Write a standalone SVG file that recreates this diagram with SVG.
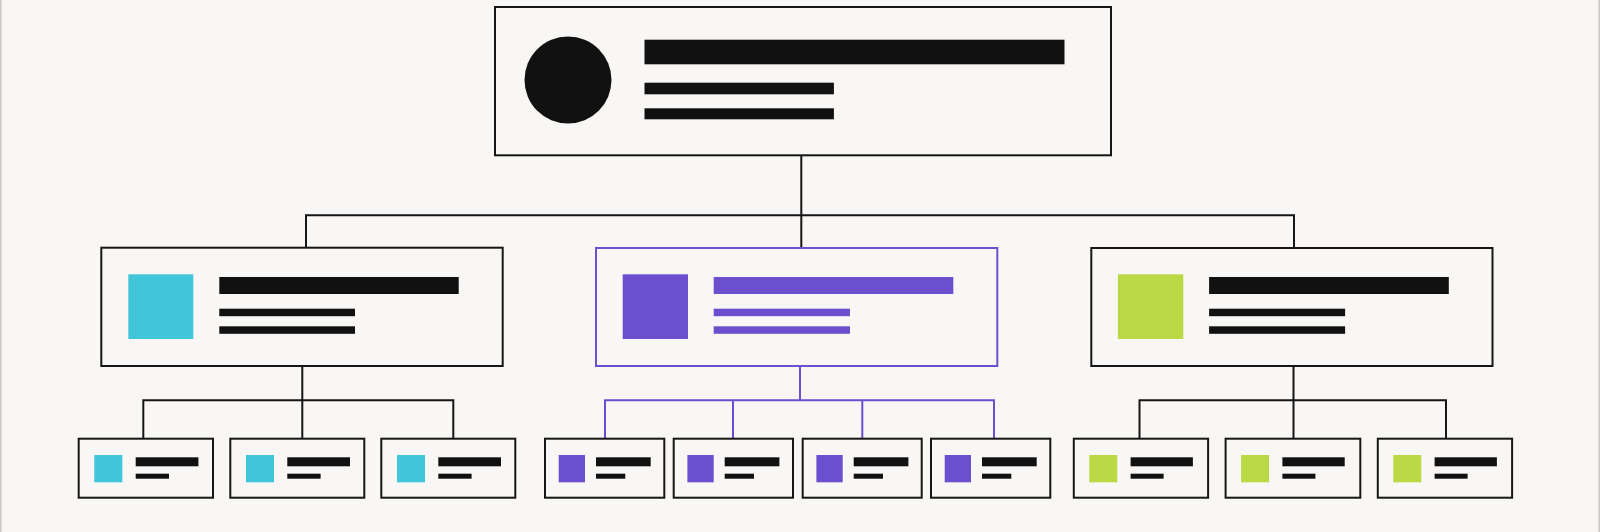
<svg xmlns="http://www.w3.org/2000/svg" width="1600" height="532" viewBox="0 0 1600 532">
<style>
.bg{fill:#f8f7f5}
.box{fill:#f8f7f5;stroke:#161616;stroke-width:2}
.pbox{fill:#f8f7f5;stroke:#6b4fcf;stroke-width:2}
.k{fill:#111111}
.p{fill:#6b4fcf}
.c{fill:#41c5d8}
.g{fill:#bad944}
.ln{fill:none;stroke:#161616;stroke-width:2}
.pln{fill:none;stroke:#6b4fcf;stroke-width:2}
</style>
<rect class="bg" x="0" y="0" width="1600" height="532"/>
<rect x="0" y="0" width="1.5" height="532" fill="#c8c8c8"/>
<rect x="1598.5" y="0" width="1.5" height="532" fill="#c8c8c8"/>
<g id="connectors">
<path class="ln" d="M801.3 155.3V247.3M306 247.3V215.3H1294V247.3"/>
<path class="ln" d="M302.3 366V400.3M143.3 438.7V400.3H453.3V438.7M302.3 400.3V438.7"/>
<path class="pln" d="M800 366V400.3M605 438.7V400.3H994V438.7M733 400.3V438.7M862.3 400.3V438.7"/>
<path class="ln" d="M1293.5 366V400.3M1139.5 438.7V400.3H1446V438.7M1293.5 400.3V438.7"/>
</g>
<g id="root">
<rect class="box" x="495" y="7" width="616" height="148.3"/>
<circle class="k" cx="568" cy="80" r="43.5"/>
<rect class="k" x="644.5" y="39.7" width="420" height="24.6"/>
<rect class="k" x="644.5" y="82.7" width="189.4" height="11.6"/>
<rect class="k" x="644.5" y="108.3" width="189.4" height="11"/>
</g>
<g id="mid-left">
<rect class="box" x="101.3" y="247.7" width="401.4" height="118.3"/>
<rect class="c" x="128.3" y="274.3" width="65" height="64.7"/>
<rect class="k" x="219.3" y="277" width="239.4" height="17"/>
<rect class="k" x="219.3" y="308.7" width="135.7" height="7.5"/>
<rect class="k" x="219.3" y="326.3" width="135.7" height="7.5"/>
</g>
<g id="mid-center">
<rect class="pbox" x="596" y="248" width="401.3" height="118"/>
<rect class="p" x="622.7" y="274.3" width="65.3" height="64.7"/>
<rect class="p" x="713.7" y="277" width="239.6" height="17"/>
<rect class="p" x="713.7" y="308.7" width="136.3" height="7.5"/>
<rect class="p" x="713.7" y="326.3" width="136.3" height="7.5"/>
</g>
<g id="mid-right">
<rect class="box" x="1091.3" y="248" width="401.2" height="118"/>
<rect class="g" x="1117.9" y="274.3" width="65.4" height="64.7"/>
<rect class="k" x="1209.1" y="277" width="239.7" height="17"/>
<rect class="k" x="1209.1" y="308.7" width="136" height="7.5"/>
<rect class="k" x="1209.1" y="326.3" width="136" height="7.5"/>
</g>
<g id="leaf-l1"><rect class="box" x="78.7" y="438.7" width="134.3" height="59"/><rect class="c" x="94.3" y="455" width="28" height="27.3"/><rect class="k" x="135.7" y="457.3" width="62.7" height="9"/><rect class="k" x="135.7" y="473.7" width="33.3" height="5"/></g>
<g id="leaf-l2"><rect class="box" x="230.3" y="438.7" width="134" height="59"/><rect class="c" x="246" y="455" width="28" height="27.3"/><rect class="k" x="287.3" y="457.3" width="62.7" height="9"/><rect class="k" x="287.3" y="473.7" width="33.3" height="5"/></g>
<g id="leaf-l3"><rect class="box" x="381.3" y="438.7" width="134" height="59"/><rect class="c" x="397" y="455" width="28" height="27.3"/><rect class="k" x="438.3" y="457.3" width="62.7" height="9"/><rect class="k" x="438.3" y="473.7" width="33.3" height="5"/></g>
<g id="leaf-c1"><rect class="box" x="545" y="438.7" width="119.3" height="59"/><rect class="p" x="558.7" y="455" width="26.3" height="27.3"/><rect class="k" x="596" y="457.3" width="54.7" height="9"/><rect class="k" x="596" y="473.7" width="29.3" height="5"/></g>
<g id="leaf-c2"><rect class="box" x="673.7" y="438.7" width="119.3" height="59"/><rect class="p" x="687.4" y="455" width="26.3" height="27.3"/><rect class="k" x="724.7" y="457.3" width="54.7" height="9"/><rect class="k" x="724.7" y="473.7" width="29.3" height="5"/></g>
<g id="leaf-c3"><rect class="box" x="802.7" y="438.7" width="119" height="59"/><rect class="p" x="816.4" y="455" width="26.3" height="27.3"/><rect class="k" x="853.7" y="457.3" width="54.7" height="9"/><rect class="k" x="853.7" y="473.7" width="29.3" height="5"/></g>
<g id="leaf-c4"><rect class="box" x="931" y="438.7" width="119.3" height="59"/><rect class="p" x="944.7" y="455" width="26.3" height="27.3"/><rect class="k" x="982" y="457.3" width="54.7" height="9"/><rect class="k" x="982" y="473.7" width="29.3" height="5"/></g>
<g id="leaf-r1"><rect class="box" x="1073.8" y="438.7" width="134.3" height="59"/><rect class="g" x="1089.3" y="455" width="28" height="27.3"/><rect class="k" x="1130.6" y="457.3" width="62.3" height="9"/><rect class="k" x="1130.6" y="473.7" width="33" height="5"/></g>
<g id="leaf-r2"><rect class="box" x="1225.6" y="438.7" width="134.7" height="59"/><rect class="g" x="1241.1" y="455" width="28" height="27.3"/><rect class="k" x="1282.4" y="457.3" width="62.3" height="9"/><rect class="k" x="1282.4" y="473.7" width="33" height="5"/></g>
<g id="leaf-r3"><rect class="box" x="1377.8" y="438.7" width="134.3" height="59"/><rect class="g" x="1393.3" y="455" width="28" height="27.3"/><rect class="k" x="1434.6" y="457.3" width="62.3" height="9"/><rect class="k" x="1434.6" y="473.7" width="33" height="5"/></g>
</svg>
